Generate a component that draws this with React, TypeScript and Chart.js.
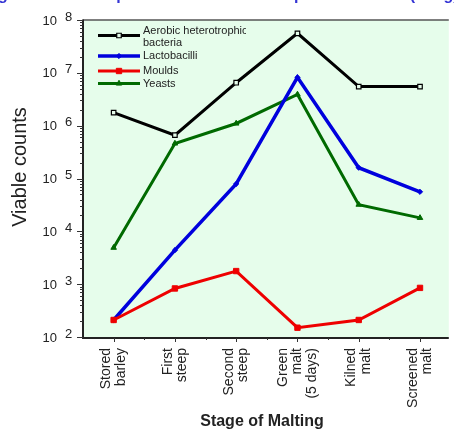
import React, { useEffect, useRef } from "react";
import { Chart, registerables } from "chart.js";
import { drawPoint } from "chart.js/helpers";

Chart.register(...registerables);

// ---- data ----
const categories: string[][] = [
  ["Stored", "barley"],
  ["First", "steep"],
  ["Second", "steep"],
  ["Green", "malt", "(5 days)"],
  ["Kilned", "malt"],
  ["Screened", "malt"],
];
const aerobicBacteria = [1.76e6, 6.6e5, 6.5e6, 5.6e7, 5.5e6, 5.5e6];
const lactobacilli = [2.1e2, 4.4e3, 7.9e4, 8.2e6, 1.6e5, 5.6e4];
const moulds = [2.1e2, 8.3e2, 1.77e3, 1.5e2, 2.1e2, 8.5e2];
const yeasts = [4.9e3, 4.6e5, 1.1e6, 3.9e6, 3.2e4, 1.8e4];
const yExponents = [2, 3, 4, 5, 6, 7, 8];
const legendLabels: string[][] = [
  ["Aerobic heterotrophic", "bacteria"],
  ["Lactobacilli"],
  ["Moulds"],
  ["Yeasts"],
];
const yTitle = "Viable counts";
const xTitle = "Stage of Malting";
const topTitle = "Showing the microbial proliferation and death phases in malt (cfu/g)";

const BG = "#e6fdeb";
const TXT = "#222222";
const FONT = "'Liberation Sans', Arial, sans-serif";

const series = [
  { data: aerobicBacteria, color: "#000000", style: "rect", r: 3.2, fill: "#e6fdeb", bw: 1.2, lw: 3, order: 0 },
  { data: lactobacilli, color: "#0000dd", style: "rectRot", r: 2.6, fill: "#0000dd", bw: 1, lw: 3.5, order: 2 },
  { data: moulds, color: "#ee0000", style: "rect", r: 3.8, fill: "#ee0000", bw: 1, lw: 3, order: 1 },
  { data: yeasts, color: "#006a00", style: "triangle", r: 3.2, fill: "#006a00", bw: 1, lw: 3, order: 3 },
];
const legendRowsY = [35.5, 56, 71, 83.5];
const legendTextY: number[][] = [[31, 43], [56], [71], [83.5]];

const decor = {
  id: "decor",
  beforeDraw(chart: any) {
    const { ctx, chartArea: a } = chart;
    ctx.save();
    ctx.fillStyle = "#ffffff";
    ctx.fillRect(0, 0, chart.width, chart.height);
    ctx.fillStyle = BG;
    ctx.fillRect(a.left, a.top, a.right - a.left, a.bottom - a.top);
    ctx.restore();
  },
  afterDraw(chart: any) {
    const { ctx, chartArea: a } = chart;
    const xs = chart.scales.x;
    const ys = chart.scales.y;
    ctx.save();

    // top title fragment (mostly cut off)
    ctx.font = `bold 16px ${FONT}`;
    ctx.fillStyle = "#3434d4";
    ctx.textBaseline = "alphabetic";
    ctx.textAlign = "left";
    const pre = ctx.measureText("Showin").width;
    ctx.fillText(topTitle, -2 - pre, 0);

    // frame
    ctx.strokeStyle = "#555";
    ctx.lineWidth = 1.5;
    ctx.beginPath();
    ctx.moveTo(a.left, a.top);
    ctx.lineTo(a.right, a.top);
    ctx.stroke();
    ctx.strokeStyle = "#222";
    ctx.lineWidth = 2;
    ctx.beginPath();
    ctx.moveTo(a.left, a.top - 0.5);
    ctx.lineTo(a.left, a.bottom + 1);
    ctx.lineTo(a.right, a.bottom + 1);
    ctx.stroke();

    // y ticks
    ctx.lineWidth = 1;
    ctx.strokeStyle = "#333";
    ctx.beginPath();
    for (const e of yExponents) {
      const maxM = e === 8 ? 1 : 9;
      for (let m = 1; m <= maxM; m++) {
        const y = Math.round(ys.getPixelForValue(m * Math.pow(10, e))) + 0.5;
        const len = m === 1 ? 6 : 3;
        ctx.moveTo(a.left - len, y);
        ctx.lineTo(a.left, y);
      }
    }
    ctx.stroke();

    // y tick labels "10" with superscript
    ctx.fillStyle = TXT;
    ctx.textBaseline = "middle";
    for (const e of yExponents) {
      const y = ys.getPixelForValue(Math.pow(10, e));
      ctx.font = `13px ${FONT}`;
      ctx.textAlign = "right";
      ctx.fillText("10", 57, y + 1);
      ctx.textAlign = "left";
      ctx.fillText(String(e), 65, y - 3);
    }

    // x ticks
    ctx.beginPath();
    for (let i = 0; i < categories.length; i++) {
      const x = Math.round(xs.getPixelForValue(i)) + 0.5;
      ctx.moveTo(x, a.bottom + 1);
      ctx.lineTo(x, a.bottom + 5);
      if (i < categories.length - 1) {
        const xm = Math.round(xs.getPixelForValue(i + 0.5)) + 0.5;
        ctx.moveTo(xm, a.bottom + 1);
        ctx.lineTo(xm, a.bottom + 3);
      }
    }
    ctx.stroke();

    // x category labels (rotated)
    ctx.font = `14px ${FONT}`;
    ctx.fillStyle = TXT;
    ctx.textAlign = "right";
    ctx.textBaseline = "middle";
    const lh = 14.5;
    categories.forEach((lines, i) => {
      const x0 = xs.getPixelForValue(i);
      lines.forEach((line, j) => {
        const x = x0 + (j - (lines.length - 1) / 2) * lh;
        ctx.save();
        ctx.translate(x, a.bottom + 11);
        ctx.rotate(-Math.PI / 2);
        ctx.fillText(line, 0, 0);
        ctx.restore();
      });
    });

    // axis titles
    ctx.save();
    ctx.font = `20px ${FONT}`;
    ctx.textAlign = "center";
    ctx.textBaseline = "middle";
    ctx.translate(20, 167);
    ctx.rotate(-Math.PI / 2);
    ctx.fillText(yTitle, 0, 0);
    ctx.restore();

    ctx.font = `bold 16px ${FONT}`;
    ctx.textAlign = "center";
    ctx.textBaseline = "middle";
    ctx.fillText(xTitle, 262, 422);

    // legend
    ctx.save();
    ctx.beginPath();
    ctx.rect(90, 22, 156, 70);
    ctx.clip();
    ctx.font = `11px ${FONT}`;
    ctx.textAlign = "left";
    ctx.textBaseline = "middle";
    series.forEach((s, k) => {
      ctx.strokeStyle = s.color;
      ctx.lineWidth = s.lw;
      ctx.beginPath();
      ctx.moveTo(98, legendRowsY[k]);
      ctx.lineTo(140, legendRowsY[k]);
      ctx.stroke();
      ctx.fillStyle = TXT;
      legendLabels[k].forEach((t, j) => ctx.fillText(t, 143, legendTextY[k][j]));
      ctx.fillStyle = s.fill;
      ctx.strokeStyle = s.color;
      ctx.lineWidth = s.bw;
      drawPoint(ctx, { pointStyle: s.style, radius: s.r, rotation: 0, borderWidth: s.bw } as any, 119, legendRowsY[k]);
    });
    ctx.restore();
    ctx.restore();
  },
};

export default function App() {
  const ref = useRef<HTMLCanvasElement>(null);
  useEffect(() => {
    document.body.style.margin = "0";
    const canvas = ref.current!;
    const chart = new Chart(canvas, {
      type: "line",
      data: {
        datasets: series.map((s, k) => ({
          label: legendLabels[k].join(" "),
          data: s.data.map((v, i) => ({ x: i, y: v })),
          borderColor: s.color,
          backgroundColor: s.fill,
          borderWidth: s.lw,
          pointStyle: s.style as any,
          pointRadius: s.r,
          pointBorderWidth: s.bw,
          pointBorderColor: s.color,
          pointBackgroundColor: s.fill,
          tension: 0,
          order: s.order,
        })),
      },
      options: {
        animation: false,
        responsive: false,
        devicePixelRatio: 1,
        layout: { padding: { left: 83, top: 20, right: 0, bottom: 94 } },
        scales: {
          x: { type: "linear", min: -0.5, max: 5.47, display: false },
          y: { type: "logarithmic", min: 100, max: 1e8, display: false },
        },
        plugins: { legend: { display: false }, tooltip: { enabled: false } },
      },
      plugins: [decor],
    });
    return () => chart.destroy();
  }, []);
  return <canvas ref={ref} width={454} height={431} style={{ display: "block" }} />;
}
